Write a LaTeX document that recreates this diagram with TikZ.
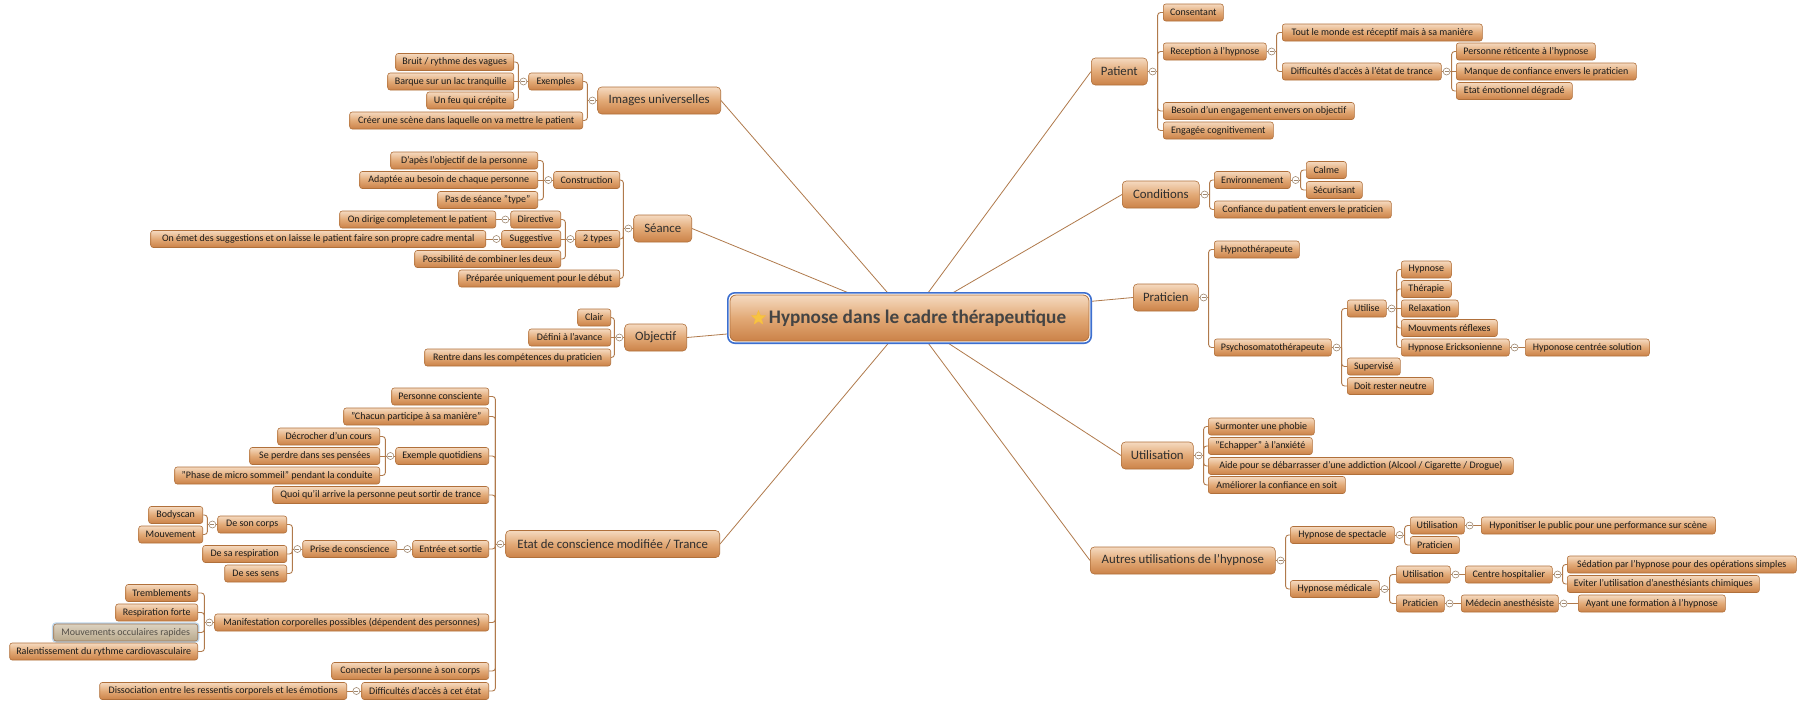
\documentclass[tikz,border=0pt]{standalone}
\usepackage{fontspec}
\setmainfont{Carlito}
\usetikzlibrary{backgrounds,fit,shapes.geometric}
\definecolor{boxtop}{HTML}{F5DAC0}
\definecolor{boxmid}{HTML}{E2A976}
\definecolor{boxbot}{HTML}{CB8248}
\definecolor{boxborder}{HTML}{B0703B}
\definecolor{linec}{HTML}{B07A4C}
\definecolor{knobc}{HTML}{A08870}
\definecolor{txt}{HTML}{1A1A1A}
\definecolor{toptxt}{HTML}{2E2E2E}
\definecolor{ctxt}{HTML}{444444}
\definecolor{ringc}{HTML}{3D6FCF}
\definecolor{starc}{HTML}{F7C342}
\definecolor{seltop}{HTML}{DCD2C0}
\definecolor{selbot}{HTML}{B9A98C}
\definecolor{selglow}{HTML}{BFD8EC}
\definecolor{seltxt}{HTML}{555048}
\newcommand\lconn[2]{\draw[conn] (#1.west) -- ++(-10,0); \draw[conn,rounded corners=3pt] ([xshift=-10pt]#1.west) |- (#2.east);}
\newcommand\rconn[2]{\draw[conn] (#1.east) -- ++(10,0); \draw[conn,rounded corners=3pt] ([xshift=10pt]#1.east) |- (#2.west);}
\newcommand\lconnh[2]{\draw[conn] (#1.west) -- (#2.east);}
\newcommand\rconnh[2]{\draw[conn] (#1.east) -- (#2.west);}
\newcommand\lknob[1]{\node[knob] (k#1) at ([xshift=-5pt]#1.west) {};}
\newcommand\rknob[1]{\node[knob] (k#1) at ([xshift=5pt]#1.east) {};}
\begin{document}
\begin{tikzpicture}[x=1pt,y=-1pt,
  box/.style={rectangle, rounded corners=2.5pt, draw=boxborder, line width=0.6pt,
    top color=boxtop, bottom color=boxbot, middle color=boxmid, text=txt,
    inner xsep=2pt, inner ysep=0pt, minimum height=17pt, font=\fontsize{10}{12}\selectfont},
  L/.style={box, anchor=east},
  R/.style={box, anchor=west},
  topic/.style={box, rounded corners=4pt, minimum height=27pt, text=toptxt, font=\fontsize{12.8}{15}\selectfont},
  TL/.style={topic, anchor=east},
  TR/.style={topic, anchor=west},
  wd/.style={minimum width=#1pt},
  sel/.style={top color=seltop, bottom color=selbot, middle color=seltop!50!selbot, draw=boxborder!60!gray, text=seltxt,
    preaction={draw=selglow, line width=3.5pt}},
  central/.style={rectangle, rounded corners=6pt, draw=boxborder, line width=0.8pt,
    top color=boxtop, bottom color=boxbot, middle color=boxmid, text=ctxt,
    minimum width=359pt, minimum height=46pt, inner sep=0pt, font=\bfseries\fontsize{19.2}{22}\selectfont},
  ring/.style={rectangle, rounded corners=7pt, draw=ringc, line width=1.6pt, fill=white, inner sep=1.8pt},
  staricon/.style={star, star points=5, star point ratio=2.3, fill=starc, draw=starc!90!orange, line width=0.3pt, minimum size=15pt, inner sep=0pt},
  conn/.style={draw=linec, line width=0.9pt},
  mainline/.style={draw=linec, line width=0.8pt},
  knob/.style={circle, draw=knobc, fill=white, line width=0.6pt, minimum size=7pt, inner sep=0pt,
    path picture={\draw[knobc,line width=0.6pt] ([xshift=-2pt]path picture bounding box.center) -- ([xshift=2pt]path picture bounding box.center);}}
]
\useasboundingbox (0,0) rectangle (1808,710);
\begin{scope}[on background layer]
\fill[white] (0,0) rectangle (1808,710);
\end{scope}

% central
\node[central] (c) at (909.5,318) {\hspace{16pt}Hypnose dans le cadre thérapeutique};
\node[staricon] (cstar) at (758.5,318) {};

% ---------- left: Images universelles
\node[TL,wd=123] (iu) at (721,100.5) {Images universelles};
\node[L,wd=54] (iuex) at (583,81.5) {Exemples};
\node[L,wd=118] (iuex1) at (514,62) {Bruit / rythme des vagues};
\node[L,wd=126] (iuex2) at (514,81.5) {Barque sur un lac tranquille};
\node[L,wd=87] (iuex3) at (514,100.5) {Un feu qui crépite};
\node[L,wd=233] (iucr) at (583,120.5) {Créer une scène dans laquelle on va mettre le patient};

% ---------- Séance
\node[TL,wd=58] (se) at (692,228.5) {Séance};
\node[L,wd=66] (seco) at (620,180) {Construction};
\node[L,wd=147] (seco1) at (538,160.5) {D'apès l'objectif de la personne};
\node[L,wd=178] (seco2) at (538,180) {Adaptée au besoin de chaque personne};
\node[L,wd=100] (seco3) at (538,200) {Pas de séance "type"};
\node[L,wd=44] (sety) at (620,239) {2 types};
\node[L,wd=50] (sedi) at (561,219.5) {Directive};
\node[L,wd=156] (sedi1) at (496,219.5) {On dirige completement le patient};
\node[L,wd=59] (sesu) at (561,239) {Suggestive};
\node[L,wd=335] (sesu1) at (486,239) {On émet des suggestions et on laisse le patient faire son propre cadre mental};
\node[L,wd=146] (seps) at (561,259) {Possibilité de combiner les deux};
\node[L,wd=161] (sepr) at (620,278.5) {Préparée uniquement pour le début};

% ---------- Objectif
\node[TL,wd=62] (ob) at (687,337.5) {Objectif};
\node[L,wd=33] (ob1) at (611,317.5) {Clair};
\node[L,wd=82] (ob2) at (611,337.5) {Défini à l'avance};
\node[L,wd=186] (ob3) at (611,357.5) {Rentre dans les compétences du praticien};

% ---------- Etat de conscience
\node[TL,wd=214] (et) at (720,544) {Etat de conscience modifiée / Trance};
\node[L,wd=97] (et1) at (489,396.5) {Personne consciente};
\node[L,wd=145] (et2) at (489,416.5) {"Chacun participe à sa manière"};
\node[L,wd=93] (et3) at (489,456) {Exemple quotidiens};
\node[L,wd=102] (et31) at (380,436.5) {Décrocher d'un cours};
\node[L,wd=130] (et32) at (380,456) {Se perdre dans ses pensées};
\node[L,wd=205] (et33) at (380,475.5) {"Phase de micro sommeil" pendant la conduite};
\node[L,wd=216] (et4) at (489,495) {Quoi qu'il arrive la personne peut sortir de trance};
\node[L,wd=76] (et5) at (489,549) {Entrée et sortie};
\node[L,wd=94] (et51) at (397,549) {Prise de conscience};
\node[L,wd=69] (et511) at (287,524.5) {De son corps};
\node[L,wd=54] (et5111) at (203,515) {Bodyscan};
\node[L,wd=64] (et5112) at (203,534.5) {Mouvement};
\node[L,wd=84] (et512) at (287,554) {De sa respiration};
\node[L,wd=62] (et513) at (287,573.5) {De ses sens};
\node[L,wd=274] (et6) at (489,622.5) {Manifestation corporelles possibles (dépendent des personnes)};
\node[L,wd=72] (et61) at (198,593) {Tremblements};
\node[L,wd=82] (et62) at (198,612.5) {Respiration forte};
\node[L,sel,wd=144] (et63) at (198,632.5) {Mouvements occulaires rapides};
\node[L,wd=188] (et64) at (198,651.5) {Ralentissement du rythme cardiovasculaire};
\node[L,wd=157] (et7) at (489,671) {Connecter la personne à son corps};
\node[L,wd=127] (et8) at (489,691) {Difficultés d'accès à cet état};
\node[L,wd=247] (et81) at (347,691) {Dissociation entre les ressentis corporels et les émotions};

% ---------- right: Patient
\node[TR,wd=56] (pa) at (1091,71.5) {Patient};
\node[R,wd=60] (pa1) at (1163,12.5) {Consentant};
\node[R,wd=103] (pa2) at (1163,51.5) {Reception à l'hypnose};
\node[R,wd=200] (pa21) at (1282,32.5) {Tout le monde est réceptif mais à sa manière};
\node[R,wd=159] (pa22) at (1282,71.5) {Difficultés d'accès à l'état de trance};
\node[R,wd=139] (pa221) at (1456,51.5) {Personne réticente à l'hypnose};
\node[R,wd=180] (pa222) at (1456,71.5) {Manque de confiance envers le praticien};
\node[R,wd=116] (pa223) at (1456,91) {Etat émotionnel dégradé};
\node[R,wd=191] (pa3) at (1163,111) {Besoin d'un engagement envers on objectif};
\node[R,wd=110] (pa4) at (1163,130.5) {Engagée cognitivement};

% ---------- Conditions
\node[TR,wd=77] (co) at (1122,194.5) {Conditions};
\node[R,wd=76] (co1) at (1214,180) {Environnement};
\node[R,wd=40] (co11) at (1306,170) {Calme};
\node[R,wd=56] (co12) at (1306,190) {Sécurisant};
\node[R,wd=177] (co2) at (1214,209.5) {Confiance du patient envers le praticien};

% ---------- Praticien
\node[TR,wd=65] (pr) at (1133,297.5) {Praticien};
\node[R,wd=85] (pr1) at (1214,249.5) {Hypnothérapeute};
\node[R,wd=117] (pr2) at (1214,347.5) {Psychosomatothérapeute};
\node[R,wd=39] (pr21) at (1347,308.5) {Utilise};
\node[R,wd=50] (pr211) at (1401,269.5) {Hypnose};
\node[R,wd=50] (pr212) at (1401,289) {Thérapie};
\node[R,wd=57] (pr213) at (1401,308.5) {Relaxation};
\node[R,wd=96] (pr214) at (1401,328) {Mouvments réflexes};
\node[R,wd=108] (pr215) at (1401,347.5) {Hypnose Ericksonienne};
\node[R,wd=124] (pr2151) at (1525,347.5) {Hyponose centrée solution};
\node[R,wd=53] (pr22) at (1347,366.5) {Supervisé};
\node[R,wd=86] (pr23) at (1347,386) {Doit rester neutre};

% ---------- Utilisation
\node[TR,wd=72] (ut) at (1121,455.5) {Utilisation};
\node[R,wd=106] (ut1) at (1208,426.5) {Surmonter une phobie};
\node[R,wd=104] (ut2) at (1208,446) {"Echapper" à l'anxiété};
\node[R,wd=305] (ut3) at (1208,466) {Aide pour se débarrasser d'une addiction (Alcool / Cigarette / Drogue)};
\node[R,wd=137] (ut4) at (1208,485) {Améliorer la confiance en soit};

% ---------- Autres utilisations
\node[TR,wd=185] (au) at (1090,560.5) {Autres utilisations de l'hypnose};
\node[R,wd=104] (au1) at (1290,535) {Hypnose de spectacle};
\node[R,wd=54] (au11) at (1410,525.5) {Utilisation};
\node[R,wd=234] (au111) at (1481,525.5) {Hyponitiser le public pour une performance sur scène};
\node[R,wd=49] (au12) at (1410,545) {Praticien};
\node[R,wd=89] (au2) at (1290,589) {Hypnose médicale};
\node[R,wd=54] (au21) at (1396,574.5) {Utilisation};
\node[R,wd=87] (au211) at (1465,574.5) {Centre hospitalier};
\node[R,wd=229] (au2111) at (1567,564.5) {Sédation par l'hypnose pour des opérations simples};
\node[R,wd=192] (au2112) at (1567,584) {Eviter l'utilisation d'anesthésiants chimiques};
\node[R,wd=48] (au22) at (1396,603.5) {Praticien};
\node[R,wd=97] (au221) at (1461,603.5) {Médecin anesthésiste};
\node[R,wd=147] (au2211) at (1578,603.5) {Ayant une formation à l'hypnose};

% ---------- main lines (background)
\begin{scope}[on background layer]
\foreach \t in {iu,se,ob,et} {\draw[mainline] (\t.east) -- (c.center);}
\foreach \t in {pa,co,pr,ut,au} {\draw[mainline] (\t.west) -- (c.center);}
\node[ring, fit=(c)] (cring) {};
\end{scope}

% ---------- connectors left
\lconn{iu}{iuex} \lconn{iu}{iucr}
\lconn{iuex}{iuex1} \lconnh{iuex}{iuex2} \lconn{iuex}{iuex3}
\lconn{se}{seco} \lconn{se}{sety} \lconn{se}{sepr}
\lconn{seco}{seco1} \lconnh{seco}{seco2} \lconn{seco}{seco3}
\lconn{sety}{sedi} \lconnh{sety}{sesu} \lconn{sety}{seps}
\lconnh{sedi}{sedi1} \lconnh{sesu}{sesu1}
\lconn{ob}{ob1} \lconnh{ob}{ob2} \lconn{ob}{ob3}
\foreach \ch in {et1,et2,et3,et4,et5,et6,et7,et8} {\lconn{et}{\ch}}
\lconn{et3}{et31} \lconnh{et3}{et32} \lconn{et3}{et33}
\lconnh{et5}{et51}
\lconn{et51}{et511} \lconn{et51}{et512} \lconn{et51}{et513}
\lconn{et511}{et5111} \lconn{et511}{et5112}
\foreach \ch in {et61,et62,et63,et64} {\lconn{et6}{\ch}}
\lconnh{et8}{et81}

% ---------- connectors right
\foreach \ch in {pa1,pa2,pa3,pa4} {\rconn{pa}{\ch}}
\rconn{pa2}{pa21} \rconn{pa2}{pa22}
\rconn{pa22}{pa221} \rconnh{pa22}{pa222} \rconn{pa22}{pa223}
\rconn{co}{co1} \rconn{co}{co2}
\rconn{co1}{co11} \rconn{co1}{co12}
\rconn{pr}{pr1} \rconn{pr}{pr2}
\rconn{pr2}{pr21} \rconn{pr2}{pr22} \rconn{pr2}{pr23}
\rconn{pr21}{pr211} \rconn{pr21}{pr212} \rconnh{pr21}{pr213} \rconn{pr21}{pr214} \rconn{pr21}{pr215}
\rconnh{pr215}{pr2151}
\foreach \ch in {ut1,ut2,ut3,ut4} {\rconn{ut}{\ch}}
\rconn{au}{au1} \rconn{au}{au2}
\rconn{au1}{au11} \rconn{au1}{au12}
\rconnh{au11}{au111}
\rconn{au2}{au21} \rconn{au2}{au22}
\rconnh{au21}{au211}
\rconn{au211}{au2111} \rconn{au211}{au2112}
\rconnh{au22}{au221} \rconnh{au221}{au2211}

% ---------- knobs
\foreach \p in {iu,iuex,se,seco,sety,sedi,sesu,ob,et,et3,et5,et51,et511,et6,et8} {\lknob{\p}}
\foreach \p in {pa,pa2,pa22,co,co1,pr,pr2,pr21,pr215,ut,au,au1,au11,au2,au21,au211,au22,au221} {\rknob{\p}}
\end{tikzpicture}
\end{document}
